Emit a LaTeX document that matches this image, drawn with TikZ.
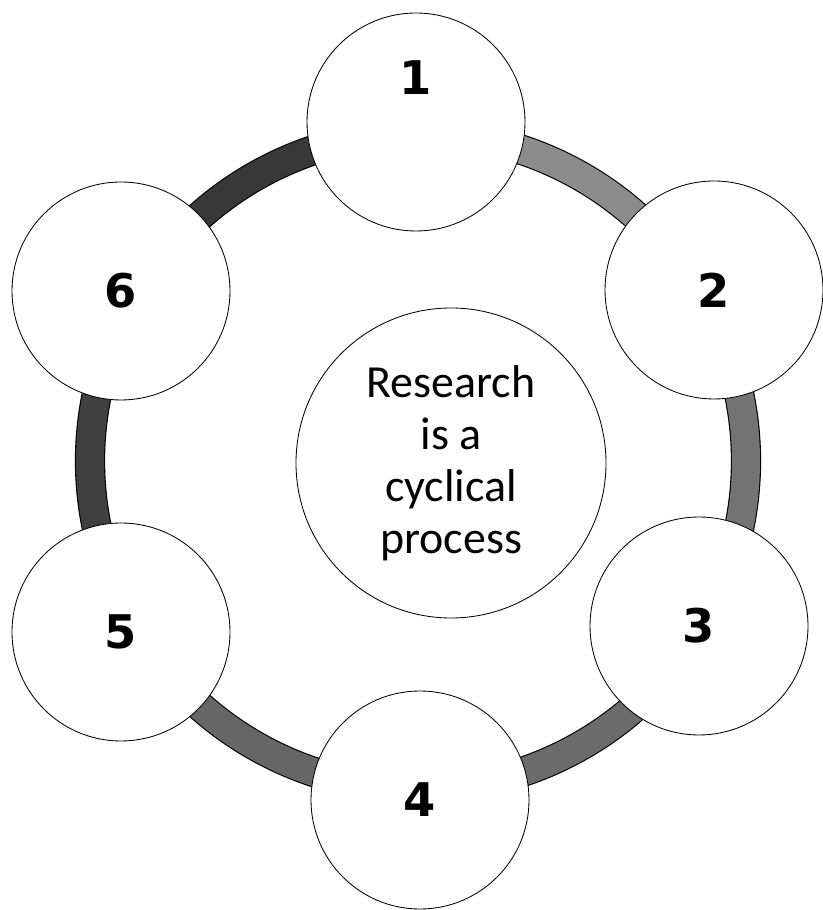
\documentclass[tikz,border=0pt]{standalone}
\usepackage{fontspec}
\setmainfont{DejaVu Sans}
\newfontfamily\hubfont{Carlito}

\begin{document}
\begin{tikzpicture}[stage/.style={draw, circle, fill=white, line width=0.6pt, minimum size=5.45cm, inner sep=0pt, font=\fontsize{33}{33}\selectfont\bfseries},
  hub/.style={draw, circle, fill=white, line width=0.6pt, minimum size=7.75cm, inner sep=0pt, align=center, font=\hubfont\fontsize{32.7}{37}\selectfont},
  band/.style={line width=0.8pt, double distance=0.7cm}]
\useasboundingbox (0,0) rectangle (20.55,22.75);
\coordinate (ring) at (10.45,11.225);
% the ring
\draw[band, double=black!78] (ring) ++(90:8.2) arc[start angle=90, end angle=150, radius=8.2];
\draw[band, double=black!75] (ring) ++(150:8.2) arc[start angle=150, end angle=210, radius=8.2];
\draw[band, double=black!60] (ring) ++(210:8.2) arc[start angle=210, end angle=270, radius=8.2];
\draw[band, double=black!58] (ring) ++(270:8.2) arc[start angle=270, end angle=330, radius=8.2];
\draw[band, double=black!55] (ring) ++(330:8.2) arc[start angle=330, end angle=390, radius=8.2];
\draw[band, double=black!45] (ring) ++(30:8.2) arc[start angle=30, end angle=90, radius=8.2];
% stages
\node[stage, label={[font=\fontsize{33}{33}\selectfont\bfseries, yshift=1.1cm]center:1}] (S1) at (10.4,19.7) {};
\node[stage] (S2) at (17.85,15.5) {2};
\node[stage] (S3) at (17.475,7.1) {3};
\node[stage] (S4) at (10.5,2.75) {4};
\node[stage] (S5) at (3.025,6.95) {5};
\node[stage] (S6) at (3.025,15.475) {6};
\node[hub] (hub) at (11.275,11.175) {Research\\is a\\cyclical\\process};
\end{tikzpicture}
\end{document}
